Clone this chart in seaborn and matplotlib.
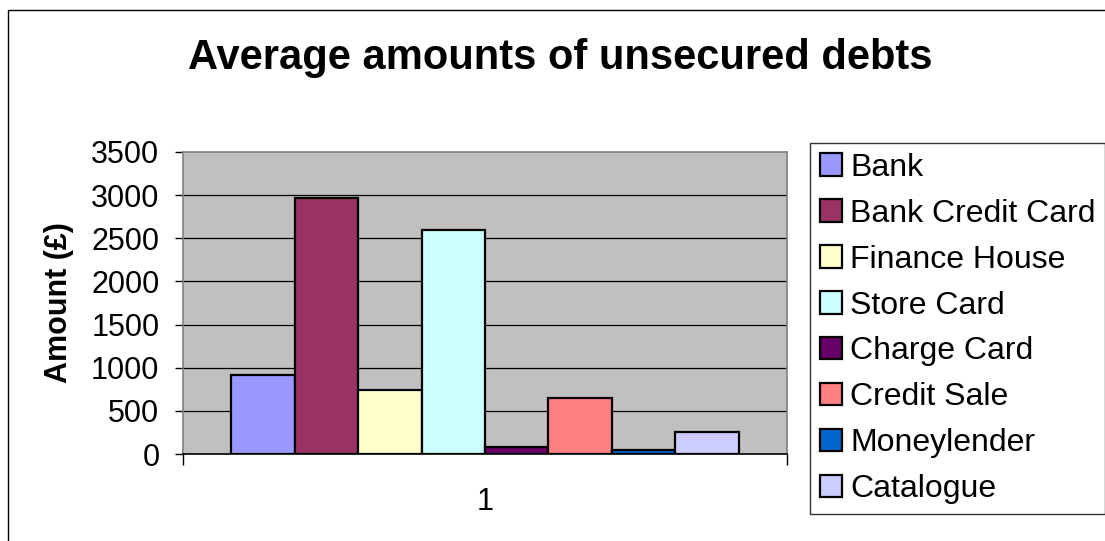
import matplotlib
matplotlib.use("Agg")
import matplotlib.pyplot as plt
import seaborn as sns
import pandas as pd
from matplotlib.patches import Rectangle

# Average unsecured debt per source (single category "1")
sources = ["Bank", "Bank Credit Card", "Finance House", "Store Card",
           "Charge Card", "Credit Sale", "Moneylender", "Catalogue"]
amounts = [910, 2970, 745, 2600, 85, 650, 50, 255]
colors = ["#9999FF", "#993366", "#FFFFCC", "#CCFFFF",
          "#660066", "#FF8080", "#0066CC", "#CCCCFF"]
group = ["1"] * len(sources)
y_ticks = [0, 500, 1000, 1500, 2000, 2500, 3000, 3500]

df = pd.DataFrame({"group": group, "source": sources, "amount": amounts})

sns.set_theme(style="white")
plt.rcParams["font.family"] = ["Liberation Sans", "DejaVu Sans"]
plt.rcParams["text.color"] = "black"
plt.rcParams["axes.labelcolor"] = "black"
plt.rcParams["xtick.color"] = "black"
plt.rcParams["ytick.color"] = "black"

fig = plt.figure(figsize=(11.05, 5.41), dpi=100)
ax = fig.add_axes([183 / 1105, 1 - 454 / 541, (787 - 183) / 1105, (454 - 152) / 541])

sns.barplot(data=df, x="group", y="amount", hue="source", hue_order=sources,
            palette=colors, width=0.84, saturation=1, edgecolor="black",
            linewidth=1.6, ax=ax, legend=True, zorder=3)

ax.set_facecolor("#C0C0C0")
ax.set_xlim(-0.5, 0.5)
ax.set_ylim(0, 3500)
ax.set_yticks(y_ticks)
ax.set_yticklabels([str(v) for v in y_ticks], fontsize=22)
for v in y_ticks[1:-1]:
    ax.axhline(v, color="black", linewidth=0.9, zorder=1)

ax.set_xticks([0])
ax.set_xticklabels(["1"], fontsize=22)
ax.set_xticks([-0.5, 0.5], minor=True)
ax.tick_params(axis="x", which="major", length=0, pad=24)
ax.tick_params(axis="x", which="minor", length=8, width=1, color="black",
               direction="out", bottom=True)
ax.tick_params(axis="y", length=6, width=1, color="black", direction="out",
               left=True, pad=11)
ax.set_xlabel("")
ax.set_ylabel("Amount (£)", fontsize=22, fontweight="bold", labelpad=12)

for side in ["left", "top", "right"]:
    ax.spines[side].set_color("#808080")
    ax.spines[side].set_linewidth(1.2)
ax.spines["bottom"].set_color("black")
ax.spines["bottom"].set_linewidth(1.2)

fig.text(0.507, 1 - 58 / 541, "Average amounts of unsecured debts",
         ha="center", va="center", fontsize=30, fontweight="bold")

leg = ax.legend(loc="upper left", bbox_to_anchor=(810 / 1105, 1 - 143 / 541),
                bbox_transform=fig.transFigure, frameon=True, fancybox=False,
                edgecolor="black", fontsize=23, handlelength=0.7,
                handleheight=0.7, handletextpad=0.25, labelspacing=0.5,
                borderpad=0.3, borderaxespad=0, title=None)
leg.get_frame().set_linewidth(1.0)
for h in leg.legend_handles:
    h.set_edgecolor("black")
    h.set_linewidth(1.6)

# chart area border
fig.patches.append(Rectangle((8 / 1105, -0.1), 1.2, 1 - 10 / 541 + 0.1,
                             transform=fig.transFigure, fill=False,
                             edgecolor="black", linewidth=1.0))

fig.savefig("out.png", dpi=100, facecolor="white")
